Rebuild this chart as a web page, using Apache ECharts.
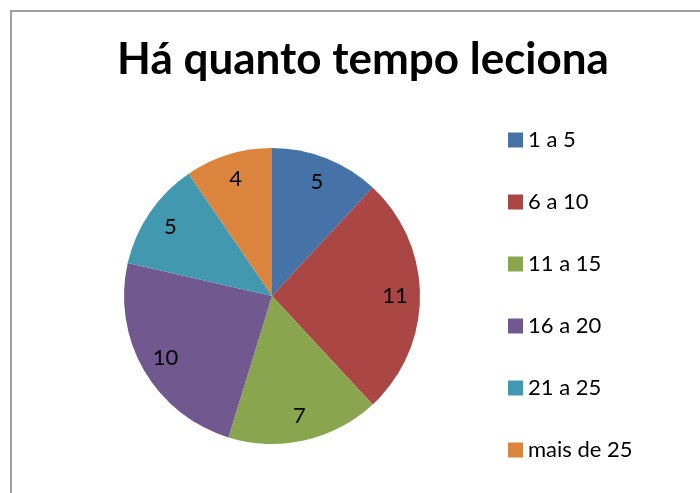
<!DOCTYPE html>
<html>
<head>
<meta charset="utf-8">
<script src="https://cdn.jsdelivr.net/npm/echarts@6/dist/echarts.min.js"></script>
<style>
  html, body { margin: 0; padding: 0; background: #fff; }
  #chart { width: 700px; height: 493px; }
</style>
</head>
<body>
<div id="chart"></div>
<script>
// data
var titleText = 'Há quanto tempo leciona'
var categories = ['1 a 5', '6 a 10', '11 a 15', '16 a 20', '21 a 25', 'mais de 25']
var values = [5, 11, 7, 10, 5, 4]
var colors = ['#4572A7', '#AA4643', '#89A54E', '#71588F', '#4198AF', '#DB843D']

var font = 'Lato, "Open Sans", sans-serif'

let dom = document.getElementById('chart')
var chart = echarts.init(dom)

var pieData = categories.map(function (c, i) {
    return { name: c, value: values[i] }
})

var option = {
    animation: false,
    color: colors,
    title: {
        text: titleText,
        left: 358,
        top: 33,
        textAlign: 'center',
        textStyle: { fontFamily: font, fontSize: 44, fontWeight: 'bold', color: '#000' }
    },
    legend: {
        orient: 'vertical',
        left: 503,
        top: 124,
        itemWidth: 15,
        itemHeight: 15,
        itemGap: 40,
        icon: 'rect',
        textStyle: { fontFamily: font, fontSize: 22, lineHeight: 22, color: '#000' },
        data: categories
    },
    graphic: [{
        type: 'rect',
        shape: { x: 11, y: 11, width: 720, height: 520 },
        style: { fill: 'none', stroke: '#a0a0a0', lineWidth: 2 },
        silent: true
    }],
    series: [
        {
            type: 'pie',
            center: [272, 296],
            radius: 148,
            startAngle: 90,
            clockwise: true,
            label: { show: false },
            labelLine: { show: false },
            emphasis: { disabled: true },
            data: pieData
        },
        {
            // transparent ring only used to put the value labels at ~0.8 R
            type: 'pie',
            center: [272, 296],
            radius: [92, 148],
            startAngle: 90,
            clockwise: true,
            silent: true,
            itemStyle: { color: 'transparent' },
            label: {
                show: true,
                position: 'inside',
                formatter: '{c}',
                fontFamily: font,
                fontSize: 22,
                color: '#000'
            },
            labelLine: { show: false },
            legendHoverLink: false,
            data: pieData.map(function (d) { return { name: d.name + ' ', value: d.value } })
        }
    ]
}

chart.setOption(option)
</script>
</body>
</html>
